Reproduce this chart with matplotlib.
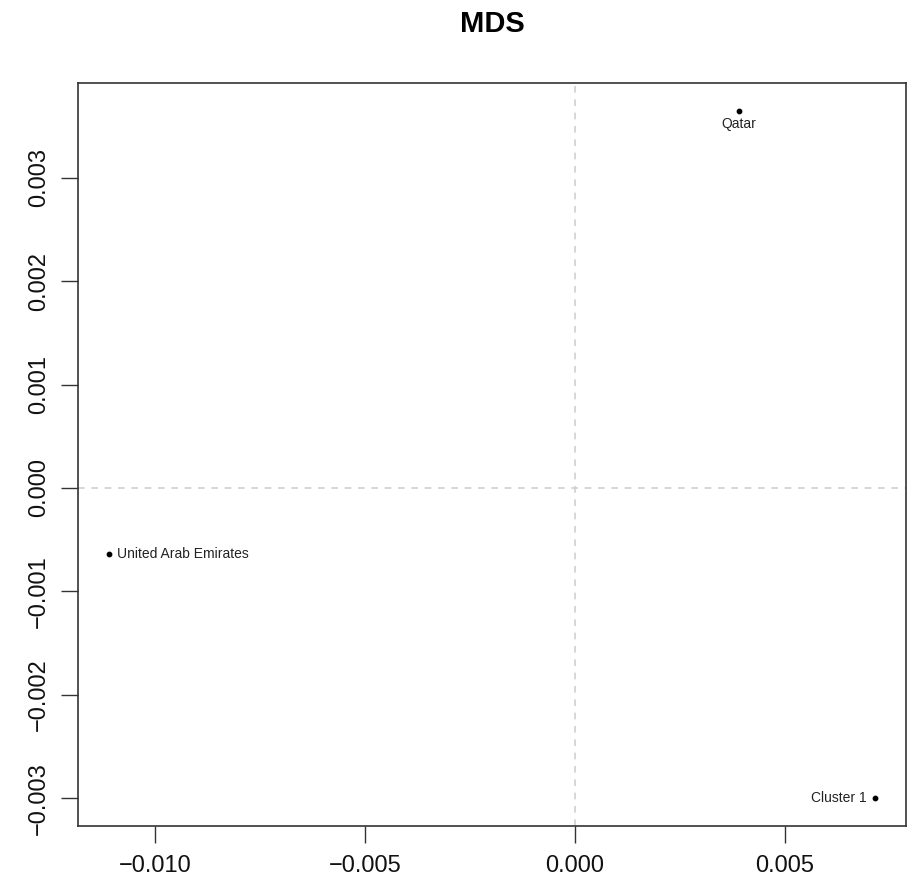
import matplotlib
matplotlib.use("Agg")
import matplotlib.pyplot as plt

# ── Data (MDS coordinates) ────────────────────────────────────────────
labels = ["Qatar", "United Arab Emirates", "Cluster 1"]
dim1 = [0.003904, -0.01110, 0.007157]
dim2 = [0.003649, -0.000637, -0.003002]
xticks = [-0.010, -0.005, 0.000, 0.005]
yticks = [-0.003, -0.002, -0.001, 0.000, 0.001, 0.002, 0.003]

plt.rcParams["font.family"] = ["Liberation Sans", "DejaVu Sans"]

fig = plt.figure(figsize=(9.16, 8.84), dpi=100)
ax = fig.add_axes([78 / 916, 1 - 826 / 884, (906 - 78) / 916, (826 - 83) / 884])

ax.axhline(0, color="#d0d0d0", linestyle=(0, (4, 4)), linewidth=1.2, zorder=1)
ax.axvline(0, color="#d0d0d0", linestyle=(0, (4, 4)), linewidth=1.2, zorder=1)
ax.scatter(dim1, dim2, s=10, color="black", zorder=3)

# R-style label placement: below, right, left
offsets = {"Qatar": (0, -5, "center", "top"),
           "United Arab Emirates": (6, 0, "left", "center"),
           "Cluster 1": (-6, 0, "right", "center")}
for lab, x, y in zip(labels, dim1, dim2):
    dx, dy, ha, va = offsets[lab]
    ax.annotate(lab, (x, y), xytext=(dx, dy), textcoords="offset points",
                ha=ha, va=va, fontsize=10, color="#222222")

# 4% padding like R
xr = max(dim1) - min(dim1)
yr = max(dim2) - min(dim2)
ax.set_xlim(min(dim1) - 0.04 * xr, max(dim1) + 0.04 * xr)
ax.set_ylim(min(dim2) - 0.04 * yr, max(dim2) + 0.04 * yr)

ax.set_xticks(xticks)
ax.set_xticklabels([f"{v:.3f}".replace("-", "\u2212") for v in xticks])
ax.set_yticks(yticks)
ax.set_yticklabels([f"{v:.3f}".replace("-", "\u2212") for v in yticks],
                   rotation=90, va="center")
ax.tick_params(axis="both", length=12, width=1, labelsize=17,
               color="#333333", labelcolor="#111111")
ax.tick_params(axis="x", pad=9)
ax.tick_params(axis="y", pad=8)
for sp in ax.spines.values():
    sp.set_color("#333333")
    sp.set_linewidth(1.2)

fig.text(492 / 916, 1 - 24 / 884, "MDS", ha="center", va="center",
         fontsize=21, fontweight="bold")

fig.savefig("out.png", dpi=100)
